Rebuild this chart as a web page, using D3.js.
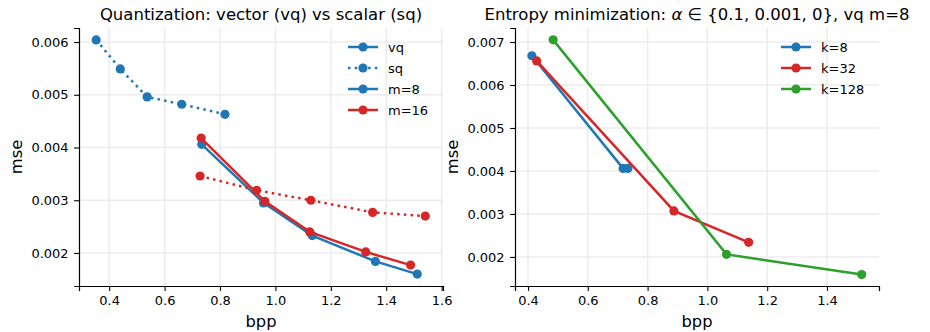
<!DOCTYPE html>
<html>
<head>
<meta charset="utf-8">
<script src="https://cdn.jsdelivr.net/npm/d3@7"></script>
<style>
  body { margin: 0; background: #fff; }
  svg, svg text { font-family: "DejaVu Sans", sans-serif; }
</style>
</head>
<body>
<div id="viz"></div>
<script>
// Datos
// Panel izquierdo: vq vs sq
const vq_m8_bpp = [0.734, 0.957, 1.133, 1.361, 1.512];
const vq_m8_mse = [0.00406, 0.00295, 0.00233, 0.00184, 0.00160];
const sq_m8_bpp = [0.353, 0.440, 0.537, 0.662, 0.818];
const sq_m8_mse = [0.00604, 0.00549, 0.00496, 0.00482, 0.00463];
const vq_m16_bpp = [0.732, 0.962, 1.124, 1.326, 1.488];
const vq_m16_mse = [0.00418, 0.00298, 0.00240, 0.00202, 0.00177];
const sq_m16_bpp = [0.728, 0.932, 1.128, 1.351, 1.541];
const sq_m16_mse = [0.00346, 0.00319, 0.00300, 0.00277, 0.00270];

// Panel derecho: entropia, alpha en {0.1, 0.001, 0}
const k8_bpp = [0.413, 0.718, 0.734];
const k8_mse = [0.00668, 0.00406, 0.00406];
const k32_bpp = [0.429, 0.888, 1.138];
const k32_mse = [0.00656, 0.00307, 0.00234];
const k128_bpp = [0.484, 1.064, 1.516];
const k128_mse = [0.00705, 0.00206, 0.00159];

const leftXTicks = [0.4, 0.6, 0.8, 1.0, 1.2, 1.4, 1.6];
const leftYTicks = [0.002, 0.003, 0.004, 0.005, 0.006];
const rightXTicks = [0.4, 0.6, 0.8, 1.0, 1.2, 1.4];
const rightYTicks = [0.002, 0.003, 0.004, 0.005, 0.006, 0.007];

//Colores
const BLUE = '#1f77b4', RED = '#d62728', GREEN = '#2ca02c';

const zip = (xs, ys) => xs.map((x, i) => ({ x: x, y: ys[i] }));

let svg = d3.select("#viz").append("svg")
    .attr("width", 930)
    .attr("height", 332);

//Estilo de ejes tipo matplotlib
function styleAxis(a) {
    a.attr("font-family", null).attr("font-size", null);
    a.select(".domain").attr("stroke", "#000").attr("stroke-width", 1.2);
    a.selectAll(".tick line").attr("stroke", "#000").attr("stroke-width", 1.1);
    a.selectAll(".tick text")
        .style("font-family", "'DejaVu Sans', sans-serif")
        .style("font-size", "13px")
        .attr("fill", "#000");
}

function drawPanel(opt) {
    let x = d3.scaleLinear().domain(opt.xDomain).range([opt.left, opt.right]);
    let y = d3.scaleLinear().domain(opt.yDomain).range([opt.bottom, opt.top]);
    let g = svg.append("g");

    // grid
    g.append("g").selectAll("line").data(opt.xTicks).enter().append("line")
        .attr("x1", d => x(d)).attr("x2", d => x(d))
        .attr("y1", opt.top).attr("y2", opt.bottom)
        .attr("stroke", "#ececec").attr("stroke-width", 1.5);
    g.append("g").selectAll("line").data(opt.yTicks).enter().append("line")
        .attr("x1", opt.left).attr("x2", opt.right)
        .attr("y1", d => y(d)).attr("y2", d => y(d))
        .attr("stroke", "#ececec").attr("stroke-width", 1.5);

    // ejes
    g.append("g")
        .attr("transform", "translate(0," + opt.bottom + ")")
        .call(d3.axisBottom(x).tickValues(opt.xTicks).tickFormat(d3.format(".1f")).tickSizeOuter(0).tickSize(4.9).tickPadding(5.3))
        .call(styleAxis);
    g.append("g")
        .attr("transform", "translate(" + opt.left + ",0)")
        .call(d3.axisLeft(y).tickValues(opt.yTicks).tickFormat(d3.format(".3f")).tickSizeOuter(0).tickSize(4.9).tickPadding(5.5))
        .call(styleAxis);

    // series
    let line = d3.line().x(d => x(d.x)).y(d => y(d.y));
    opt.series.forEach(s => {
        let pts = zip(s.bpp, s.mse);
        g.append("path")
            .datum(pts)
            .attr("d", line)
            .attr("fill", "none")
            .attr("stroke", s.color)
            .attr("stroke-width", 2.5)
            .attr("stroke-dasharray", s.dotted ? "2.5,4.2" : null);
        g.append("g").selectAll("circle").data(pts).enter().append("circle")
            .attr("cx", d => x(d.x)).attr("cy", d => y(d.y))
            .attr("r", 4.6).attr("fill", s.color);
    });

    // titulo
    let title = svg.append("text")
        .attr("x", (opt.left + opt.right) / 2)
        .attr("y", 20)
        .attr("text-anchor", "middle")
        .attr("font-size", "16.5px");
    opt.title(title);

    svg.append("text")
        .attr("x", (opt.left + opt.right) / 2).attr("y", 327)
        .attr("text-anchor", "middle").attr("font-size", "16.3px")
        .text("bpp");
    svg.append("text")
        .attr("transform", "translate(" + opt.yLabelX + "," + ((opt.top + opt.bottom) / 2) + ") rotate(-90)")
        .attr("text-anchor", "middle").attr("font-size", "16.3px")
        .text("mse");

    // leyenda
    let lg = svg.append("g");
    opt.legend.forEach((l, i) => {
        let cy = opt.legendY + i * 21;
        lg.append("line")
            .attr("x1", opt.legendX).attr("x2", opt.legendX + 30)
            .attr("y1", cy).attr("y2", cy)
            .attr("stroke", l.color).attr("stroke-width", 2.5)
            .attr("stroke-dasharray", l.dotted ? "2.5,4.2" : null);
        lg.append("circle").attr("cx", opt.legendX + 15).attr("cy", cy).attr("r", 4.6).attr("fill", l.color);
        lg.append("text")
            .attr("x", opt.legendX + 40).attr("y", cy + 4.8)
            .attr("font-size", "13px")
            .text(l.label);
    });
}

drawPanel({
    left: 79, right: 443, top: 28, bottom: 286,
    xDomain: [0.291, 1.605], yDomain: [0.001374, 0.006266],
    xTicks: leftXTicks, yTicks: leftYTicks,
    yLabelX: 22,
    series: [
        { bpp: vq_m8_bpp, mse: vq_m8_mse, color: BLUE },
        { bpp: sq_m8_bpp, mse: sq_m8_mse, color: BLUE, dotted: true },
        { bpp: vq_m16_bpp, mse: vq_m16_mse, color: RED },
        { bpp: sq_m16_bpp, mse: sq_m16_mse, color: RED, dotted: true }
    ],
    title: t => t.text("Quantization: vector (vq) vs scalar (sq)"),
    legendX: 348, legendY: 47,
    legend: [
        { label: "vq", color: BLUE },
        { label: "sq", color: BLUE, dotted: true },
        { label: "m=8", color: BLUE },
        { label: "m=16", color: RED }
    ]
});

drawPanel({
    left: 515, right: 879, top: 28, bottom: 286,
    xDomain: [0.3565, 1.574], yDomain: [0.001324, 0.007326],
    xTicks: rightXTicks, yTicks: rightYTicks,
    yLabelX: 458,
    series: [
        { bpp: k8_bpp, mse: k8_mse, color: BLUE },
        { bpp: k32_bpp, mse: k32_mse, color: RED },
        { bpp: k128_bpp, mse: k128_mse, color: GREEN }
    ],
    title: t => {
        t.append("tspan").text("Entropy minimization: ");
        t.append("tspan").attr("font-style", "italic").text("α");
        t.append("tspan").text(" ∈ {0.1, 0.001, 0}, vq m=8");
    },
    legendX: 781, legendY: 47,
    legend: [
        { label: "k=8", color: BLUE },
        { label: "k=32", color: RED },
        { label: "k=128", color: GREEN }
    ]
});
</script>
</body>
</html>
